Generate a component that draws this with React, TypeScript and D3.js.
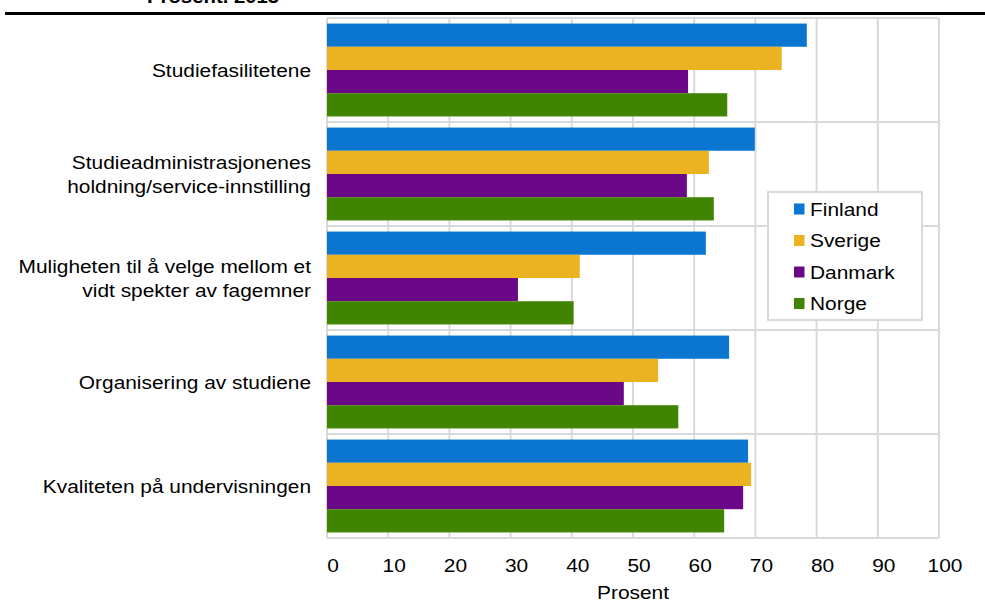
import React from "react";
import * as d3 from "d3";

const categories = [
  "Studiefasilitetene",
  "Studieadministrasjonenes\nholdning/service-innstilling",
  "Muligheten til å velge mellom et\nvidt spekter av fagemner",
  "Organisering av studiene",
  "Kvaliteten på undervisningen",
];
const seriesNames = ["Finland", "Sverige", "Danmark", "Norge"];
const finland = [78.4, 69.9, 61.9, 65.7, 68.8];
const sverige = [74.3, 62.4, 41.3, 54.1, 69.3];
const danmark = [59.0, 58.8, 31.2, 48.5, 68.0];
const norge = [65.4, 63.2, 40.3, 57.4, 64.9];
const xTicks = [0, 10, 20, 30, 40, 50, 60, 70, 80, 90, 100];
const colors = ["#0a76d0", "#ebb322", "#6a0888", "#408400"];

const W = 985;
const H = 603;
const FONT = "'Liberation Sans', Arial, sans-serif";
const FS = 18.5;
const SX = 1.13;

function Txt({ x, y, anchor = "start", children, weight = "normal", size = FS }: any) {
  return (
    <text
      transform={`translate(${x},${y}) scale(${SX},1)`}
      textAnchor={anchor}
      fontFamily={FONT}
      fontSize={size}
      fontWeight={weight}
      fill="#000"
    >
      {children}
    </text>
  );
}

export default function App() {
  const series = [finland, sverige, danmark, norge];
  const left = 327, right = 939, top = 18, bottom = 538;
  const x = d3.scaleLinear().domain([0, 100]).range([left, right]);
  const y = d3.scaleBand<number>().domain(d3.range(categories.length)).range([top, bottom]);
  const inner = d3
    .scaleBand<number>()
    .domain(d3.range(seriesNames.length))
    .range([0, y.bandwidth()])
    .paddingOuter(0.24)
    .paddingInner(0);
  const grid = "#d9d9d9";

  return (
    <svg width={W} height={H} style={{ position: "absolute", left: 0, top: 0 }}>
      <rect width={W} height={H} fill="#fff" />
      <Txt x={147} y={3} weight="bold" size={18}>Prosent. 2013</Txt>
      <line x1={5} x2={W} y1={13.5} y2={13.5} stroke="#000" strokeWidth={3} />

      {xTicks.map((t) => (
        <line key={"v" + t} x1={x(t)} x2={x(t)} y1={top} y2={bottom} stroke={grid} strokeWidth={2} />
      ))}
      {d3.range(categories.length + 1).map((i) => (
        <line
          key={"h" + i}
          x1={left}
          x2={right}
          y1={top + i * y.step()}
          y2={top + i * y.step()}
          stroke={grid}
          strokeWidth={2}
        />
      ))}

      {categories.map((c, ci) =>
        series.map((s, si) => (
          <rect
            key={ci + "-" + si}
            x={x(0)}
            y={(y(ci) as number) + (inner(si) as number)}
            width={x(s[ci]) - x(0)}
            height={inner.bandwidth()}
            fill={colors[si]}
          />
        ))
      )}

      {categories.map((c, ci) => {
        const lines = c.split("\n");
        const cy = (y(ci) as number) + y.bandwidth() / 2;
        const lh = 24;
        return lines.map((l, li) => (
          <Txt key={ci + "l" + li} x={311} y={cy + (li - (lines.length - 1) / 2) * lh + 6.5} anchor="end">
            {l}
          </Txt>
        ));
      })}

      {xTicks.map((t) => (
        <Txt key={"t" + t} x={x(t) + 6} y={572} anchor="middle">{t}</Txt>
      ))}
      <Txt x={(left + right) / 2} y={599} anchor="middle">Prosent</Txt>

      <rect x={768} y={192} width={154} height={128} fill="#fff" stroke={grid} strokeWidth={2} />
      {seriesNames.map((n, i) => (
        <g key={n}>
          <rect x={794} y={203.5 + i * 31.5} width={10.5} height={11} fill={colors[i]} />
          <Txt x={810} y={215.5 + i * 31.5}>{n}</Txt>
        </g>
      ))}
    </svg>
  );
}
